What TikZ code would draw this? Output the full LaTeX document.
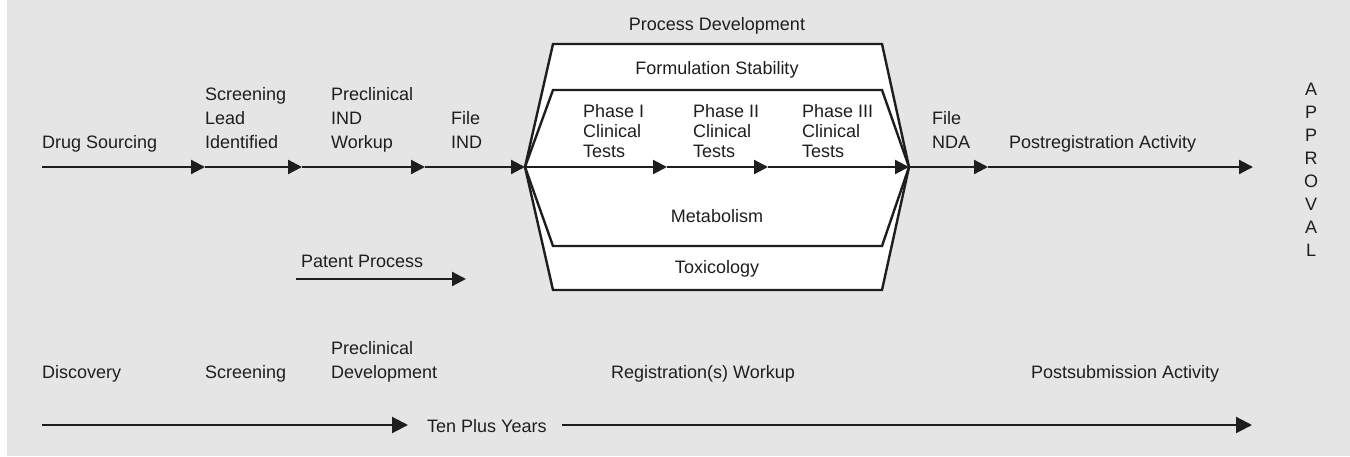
\documentclass[tikz,border=0pt]{standalone}
\usepackage{fontspec}
\setmainfont{Liberation Sans}
\usetikzlibrary{arrows.meta}
\definecolor{bggray}{RGB}{229,229,229}
\definecolor{ink}{RGB}{30,30,30}
\begin{document}
\begin{tikzpicture}[x=1pt,y=-1pt,
  txt/.style={inner sep=0pt, text=ink, font=\fontsize{18}{24}\selectfont},
  stack/.style={txt, align=left, anchor=north west},
  phase/.style={inner sep=0pt, text=ink, font=\fontsize{18}{20}\selectfont, align=left, anchor=north west},
  flow/.style={draw=ink, line width=2.2pt, -{Triangle[length=14pt,width=14pt]}},
  bigflow/.style={draw=ink, line width=2.2pt, -{Triangle[length=16pt,width=16pt]}},
  hexa/.style={draw=ink, line width=2.4pt, fill=white, line join=miter},
]
\useasboundingbox (0,0) rectangle (1350,456);
\fill[bggray] (7,0) rectangle (1350,456);

% hexagonal frames
\coordinate (hL) at (525,167);
\coordinate (hR) at (909,167);
\draw[hexa] (hL) -- (553,44) -- (882,44) -- (hR) -- (882,290) -- (553,290) -- cycle;
\draw[hexa] (hL) -- (553,90) -- (882,90) -- (hR) -- (882,246) -- (553,246) -- cycle;

% main flow
\coordinate (m0) at (42,167);
\coordinate (m1) at (205,167);
\coordinate (m2) at (302,167);
\coordinate (m3) at (425,167);
\coordinate (p1) at (667,167);
\coordinate (p2) at (768,167);
\coordinate (m4) at (988,167);
\coordinate (m5) at (1253,167);
\draw[flow] (m0) -- (m1);
\draw[flow] (m1) -- (m2);
\draw[flow] (m2) -- (m3);
\draw[flow] (m3) -- (hL);
\draw[flow] (hL) -- (p1);
\draw[flow] (p1) -- (p2);
\draw[flow] (p2) -- (hR);
\draw[flow] (hR) -- (m4);
\draw[flow] (m4) -- (m5);

% patent process
\coordinate (pa0) at (296,279);
\coordinate (pa1) at (466,279);
\draw[flow] (pa0) -- (pa1);

% ten plus years
\coordinate (t0) at (42,425);
\coordinate (t1) at (408,425);
\coordinate (t2) at (562,425);
\coordinate (t3) at (1252,425);
\draw[bigflow] (t0) -- (t1);
\draw[bigflow] (t2) -- (t3);

% top labels
\node[txt, anchor=base west] (drug) at (42,148) {Drug Sourcing};
\node[stack] (screen) at (205,87) {Screening\\Lead\\Identified};
\node[stack] (precl) at (331,87) {Preclinical\\IND\\Workup};
\node[stack] (fileind) at (451,111) {File\\IND};
\node[stack] (filenda) at (932,111) {File\\NDA};
\node[txt, anchor=base west] (postreg) at (1009,148) {Postregistration Activity};
\node[inner sep=0pt, text=ink, font=\fontsize{18}{23}\selectfont, align=center, anchor=north] (appr) at (1311,83) {A\\P\\P\\R\\O\\V\\A\\L};

% inside frames
\node[txt, anchor=base] (procdev) at (717,30) {Process Development};
\node[txt, anchor=base] (formstab) at (717,74) {Formulation Stability};
\node[phase] (ph1) at (583,104) {Phase I\\Clinical\\Tests};
\node[phase] (ph2) at (693,104) {Phase II\\Clinical\\Tests};
\node[phase] (ph3) at (802,104) {Phase III\\Clinical\\Tests};
\node[txt, anchor=base] (metab) at (717,222) {Metabolism};
\node[txt, anchor=base] (toxic) at (717,273) {Toxicology};

\node[txt, anchor=base west] (patent) at (301,267) {Patent Process};

% bottom stages
\node[txt, anchor=base west] (disc) at (42,378) {Discovery};
\node[txt, anchor=base west] (scrn) at (205,378) {Screening};
\node[stack] (precdev) at (331,341) {Preclinical\\Development};
\node[txt, anchor=base] (regwork) at (703,378) {Registration(s) Workup};
\node[txt, anchor=base west] (postsub) at (1031,378) {Postsubmission Activity};
\node[txt, anchor=base west] (tenplus) at (427,432) {Ten Plus Years};
\end{tikzpicture}
\end{document}
